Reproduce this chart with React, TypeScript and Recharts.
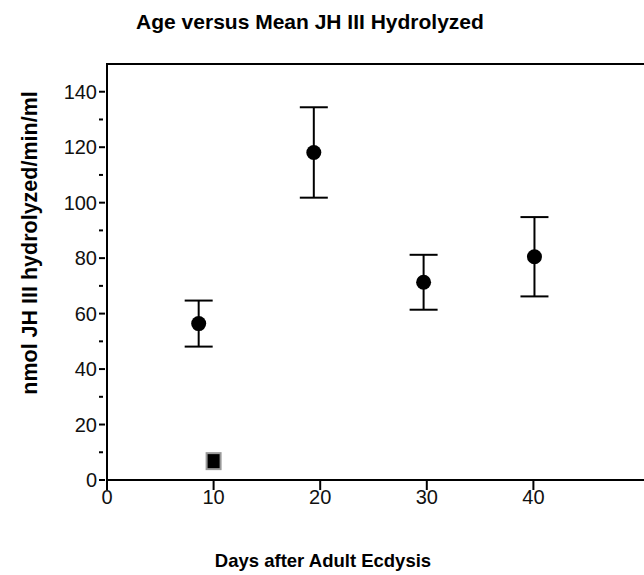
import { ErrorBar, Scatter, ScatterChart, XAxis, YAxis } from "recharts";

const days = [8.6, 19.4, 29.7, 40.1];
const meanHydrolyzed = [56.4, 118.1, 71.3, 80.5];
const errHydrolyzed = [8.3, 16.3, 9.9, 14.3];

const controlDays = [10];
const controlHydrolyzed = [6.8];

const xTicks = [0, 10, 20, 30, 40];
const yTicks = [0, 10, 20, 30, 40, 50, 60, 70, 80, 90, 100, 110, 120, 130, 140];

const FONT = "'Liberation Sans', Arial, sans-serif";

const mainData = days.map((d, i) => ({ x: d, y: meanHydrolyzed[i], err: errHydrolyzed[i] }));
const controlData = controlDays.map((d, i) => ({ x: d, y: controlHydrolyzed[i] }));

function YTick(props: any) {
  const { x, y, payload } = props;
  const major = payload.value % 20 === 0;
  return (
    <g>
      <line x1={x} x2={x + (major ? 6 : 4)} y1={y} y2={y} stroke="#000" strokeWidth={2} />
      {major && (
        <text x={x - 2} y={y + 7} textAnchor="end" fontSize={20} fontFamily={FONT} fill="#111">
          {payload.value}
        </text>
      )}
    </g>
  );
}

function SquareShape(props: any) {
  const { cx, cy } = props;
  return <rect x={cx - 7} y={cy - 8} width={14} height={16} fill="#000" stroke="#999" strokeWidth={2} />;
}

function DotShape(props: any) {
  const { cx, cy } = props;
  return <circle cx={cx} cy={cy} r={7.5} fill="#000" />;
}

export default function App() {
  return (
    <div style={{ position: "absolute", left: 0, top: 0, width: 644, height: 575, background: "#fff" }}>
      <ScatterChart width={644} height={575} margin={{ top: 64, right: 4, bottom: 65, left: 0 }}>
        <text x={310} y={29} textAnchor="middle" fontSize={21} fontWeight="bold" fontFamily={FONT} fill="#000">
          Age versus Mean JH III Hydrolyzed
        </text>
        <text x={323} y={567} textAnchor="middle" fontSize={18.5} fontWeight="bold" fontFamily={FONT} fill="#000">
          Days after Adult Ecdysis
        </text>
        <text
          x={37}
          y={243}
          transform="rotate(-90 37 243)"
          textAnchor="middle"
          fontSize={21.5}
          fontWeight="bold"
          fontFamily={FONT}
          fill="#000"
        >
          nmol JH III hydrolyzed/min/ml
        </text>
        {/* frame top edge and the axis tail past the plot, as in the scan */}
        <line x1={106} x2={644} y1={64} y2={64} stroke="#000" strokeWidth={2} />
        <line x1={638} x2={644} y1={480} y2={480} stroke="#000" strokeWidth={2} />
        <XAxis
          type="number"
          dataKey="x"
          domain={[0, 50]}
          ticks={xTicks}
          height={30}
          axisLine={{ stroke: "#000", strokeWidth: 2 }}
          tickLine={{ stroke: "#000", strokeWidth: 2 }}
          tickSize={10}
          tick={{ fontSize: 20, fontFamily: FONT, fill: "#111" }}
          tickMargin={0}
        />
        <YAxis
          type="number"
          dataKey="y"
          domain={[0, 150]}
          ticks={yTicks}
          width={107}
          interval={0}
          axisLine={{ stroke: "#000", strokeWidth: 2 }}
          tickLine={false}
          tickSize={6}
          tick={<YTick />}
        />
        <Scatter data={mainData} shape={<DotShape />} isAnimationActive={false}>
          <ErrorBar dataKey="err" direction="y" width={14} strokeWidth={2} stroke="#000" isAnimationActive={false} />
        </Scatter>
        <Scatter data={controlData} shape={<SquareShape />} isAnimationActive={false} />
      </ScatterChart>
    </div>
  );
}
